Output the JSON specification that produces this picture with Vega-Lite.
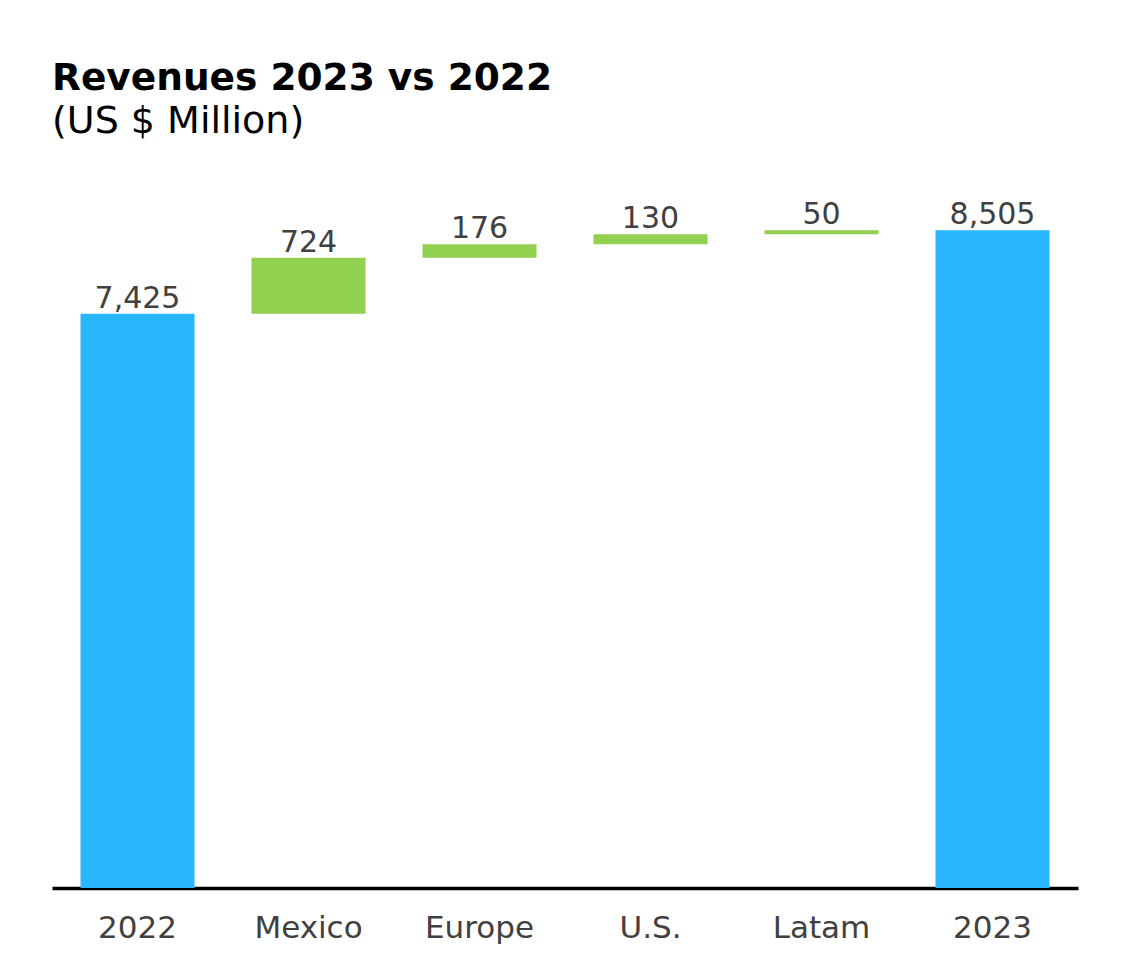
{
  "$schema": "https://vega.github.io/schema/vega-lite/v6.json",
  "autosize": "none",
  "width": 1026,
  "height": 696,
  "padding": {"left": 52, "top": 192, "right": 44, "bottom": 80},
  "background": "white",
  "title": {
    "text": "Revenues 2023 vs 2022",
    "subtitle": "(US $ Million)",
    "anchor": "start",
    "frame": "group",
    "font": "DejaVu Sans",
    "fontSize": 37.5,
    "fontWeight": "bold",
    "color": "#000000",
    "subtitleFont": "DejaVu Sans",
    "subtitleFontSize": 38,
    "subtitleColor": "#000000",
    "subtitlePadding": 6,
    "offset": 51
  },
  "data": {
    "values": [
      {"label": "2022", "start": 0, "end": 7425, "amount": 7425, "kind": "total"},
      {"label": "Mexico", "start": 7425, "end": 8149, "amount": 724, "kind": "increase"},
      {"label": "Europe", "start": 8149, "end": 8325, "amount": 176, "kind": "increase"},
      {"label": "U.S.", "start": 8325, "end": 8455, "amount": 130, "kind": "increase"},
      {"label": "Latam", "start": 8455, "end": 8505, "amount": 50, "kind": "increase"},
      {"label": "2023", "start": 0, "end": 8505, "amount": 8505, "kind": "total"}
    ]
  },
  "encoding": {
    "x": {
      "field": "label",
      "type": "nominal",
      "sort": null,
      "scale": {"paddingInner": 0.3333, "paddingOuter": 0.1667},
      "axis": {
        "title": null,
        "ticks": false,
        "domainColor": "#000000",
        "domainWidth": 3.5,
        "labelFont": "DejaVu Sans",
        "labelFontSize": 31,
        "labelColor": "#404040",
        "labelPadding": 25,
        "labelAngle": 0
      }
    }
  },
  "layer": [
    {
      "mark": {"type": "bar"},
      "encoding": {
        "y": {
          "field": "start",
          "type": "quantitative",
          "scale": {"domain": [0, 9000], "nice": false, "zero": true},
          "axis": null
        },
        "y2": {"field": "end"},
        "color": {
          "field": "kind",
          "type": "nominal",
          "scale": {"domain": ["total", "increase"], "range": ["#29b6fe", "#92d050"]},
          "legend": null
        }
      }
    },
    {
      "mark": {
        "type": "text",
        "baseline": "alphabetic",
        "dy": -6,
        "font": "DejaVu Sans",
        "fontSize": 30,
        "color": "#404040"
      },
      "encoding": {
        "y": {"field": "end", "type": "quantitative"},
        "text": {"field": "amount", "type": "quantitative", "format": ","}
      }
    }
  ],
  "config": {"view": {"stroke": null}}
}
